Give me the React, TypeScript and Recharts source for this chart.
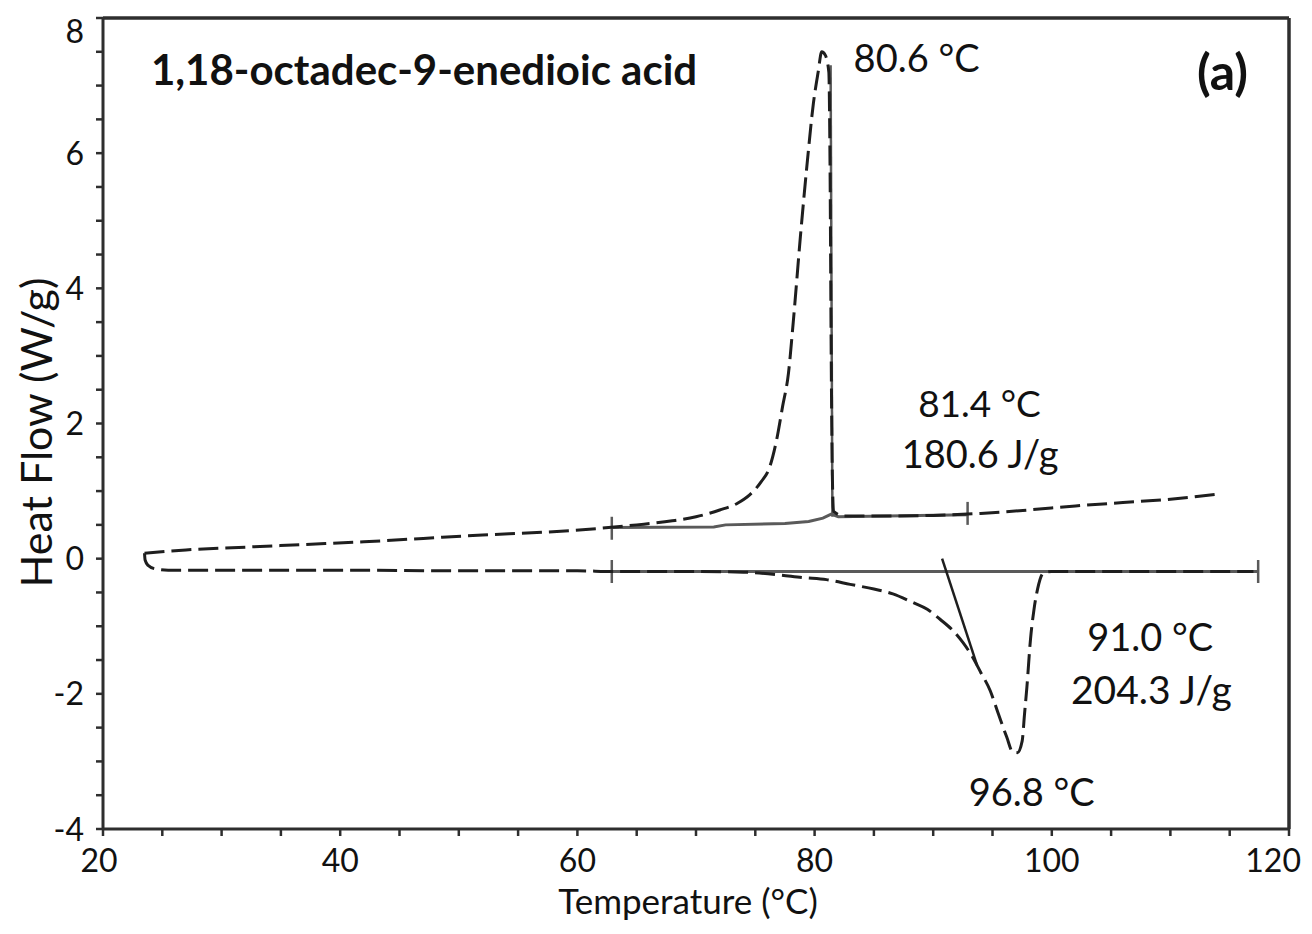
import React from "react";
import {
    LineChart,
    Line,
    XAxis,
    YAxis,
    ReferenceLine,
    ReferenceDot,
    Label,
} from "recharts";

// cooling scan (upper trace, exotherm up)
const coolingTemp = [23.5, 27, 32, 37, 42, 47, 52, 57, 62, 65, 68, 70, 72, 73.5, 74.5, 75.5, 76.2, 76.8, 77.3, 77.8, 78.2, 78.8, 79.4, 79.9, 80.3, 80.6, 80.9, 81.2, 81.3, 81.4, 81.5, 81.6, 82.5, 86, 90, 94, 98, 102, 106, 110, 114.2];
const coolingFlow = [0.08, 0.13, 0.17, 0.21, 0.25, 0.3, 0.35, 0.39, 0.45, 0.5, 0.56, 0.62, 0.72, 0.82, 0.94, 1.14, 1.35, 1.76, 2.25, 2.75, 3.5, 4.76, 5.9, 6.74, 7.2, 7.5, 7.45, 7.2, 5.85, 3.0, 1.2, 0.7, 0.63, 0.63, 0.64, 0.67, 0.72, 0.78, 0.83, 0.88, 0.96];

// heating scan (lower trace, endotherm down)
const heatingTemp = [23.5, 23.55, 23.8, 24.4, 25.5, 30, 40, 50, 60, 63, 70, 74, 77, 79, 81, 83, 85, 86.6, 88.3, 89.5, 90.6, 91.7, 92.5, 93.2, 94.0, 94.8, 95.5, 96.2, 96.7, 97.1, 97.5, 97.7, 97.9, 98.2, 98.5, 98.8, 99.3, 100, 117];
const heatingFlow = [0.08, -0.02, -0.1, -0.15, -0.17, -0.17, -0.17, -0.18, -0.18, -0.19, -0.19, -0.2, -0.24, -0.28, -0.31, -0.38, -0.45, -0.52, -0.65, -0.75, -0.9, -1.07, -1.24, -1.42, -1.68, -1.95, -2.3, -2.64, -2.86, -2.87, -2.7, -2.3, -1.9, -1.2, -0.75, -0.45, -0.21, -0.19, -0.19];

// analysis lines drawn by the instrument software
const coolBaseTemp = [62.9, 71.5, 72.5, 77.5, 79.5, 80.7, 81.4, 82, 92.9];
const coolBaseFlow = [0.46, 0.47, 0.5, 0.52, 0.55, 0.6, 0.66, 0.62, 0.65];
const coolOnsetTemp = [81.35, 81.5];
const coolOnsetFlow = [7.3, 0.62];
const heatBaseTemp = [62.9, 117.4];
const heatBaseFlow = [-0.19, -0.19];
const heatOnsetTemp = [90.75, 93.7];
const heatOnsetFlow = [0.0, -1.58];

// integration limit marks: [temperature, top, bottom]
const limitMarks = [
    [62.9, 0.62, 0.28],
    [92.9, 0.84, 0.5],
    [62.9, -0.02, -0.36],
    [117.4, -0.02, -0.36],
];

const tempTicks = [20, 25, 30, 35, 40, 45, 50, 55, 60, 65, 70, 75, 80, 85, 90, 95, 100, 105, 110, 115, 120];
const flowTicks = [-4, -3.5, -3, -2.5, -2, -1.5, -1, -0.5, 0, 0.5, 1, 1.5, 2, 2.5, 3, 3.5, 4, 4.5, 5, 5.5, 6, 6.5, 7, 7.5, 8];

// annotations: text, temperature, heat flow, bold, size
const notes: [string, number, number, boolean, number][] = [
    ["1,18-octadec-9-enedioic acid", 47.07, 7.23, true, 42],
    ["80.6 °C", 88.6, 7.41, false, 38],
    ["(a)", 114.4, 7.2, true, 50],
    ["81.4 °C", 93.9, 2.3, false, 37],
    ["180.6 J/g", 93.95, 1.54, false, 38],
    ["91.0 °C", 108.3, -1.17, false, 38],
    ["204.3 J/g", 108.4, -1.94, false, 39],
    ["96.8 °C", 98.3, -3.45, false, 38],
];

const zip = (t: number[], f: number[]) => t.map((v, i) => ({ t: v, f: f[i] }));

const FONT = "Lato, 'Open Sans', sans-serif";
const AXIS = "#2e2e2e";
const TRACE = "#1e1e1e";
const FIT = "#5a5a5a";

const XTick = (props: any) => {
    const { x, y, payload } = props;
    const major = payload.value % 20 === 0;
    let anchor = "middle";
    let tx = x;
    if (payload.value === 120) {
        anchor = "end";
        tx = x + 12;
    } else if (payload.value === 20) {
        tx = x - 4;
    }
    return (
        <g>
            <line x1={x} x2={x} y1={y} y2={y + 7} stroke={AXIS} strokeWidth={2.5} />
            {major && (
                <text x={tx} y={y + 43} textAnchor={anchor} fontSize={32} fontFamily={FONT} fill="#111">
                    {payload.value}
                </text>
            )}
        </g>
    );
};

const YTick = (props: any) => {
    const { x, y, payload } = props;
    const major = payload.value % 2 === 0;
    const shift = payload.value === 8 ? 13 : 0;
    return (
        <g>
            <line x1={x - 7} x2={x} y1={y} y2={y} stroke={AXIS} strokeWidth={2.5} />
            {major && (
                <text x={x - 19} y={y + shift} dy="0.36em" textAnchor="end" fontSize={32} fontFamily={FONT} fill="#111">
                    {payload.value}
                </text>
            )}
        </g>
    );
};

const XTitle = (props: any) => {
    const { viewBox } = props;
    return (
        <text x={viewBox.x + viewBox.width / 2 - 8} y={viewBox.y + 85} textAnchor="middle" fontSize={35} fontFamily={FONT} fill="#111">
            Temperature (°C)
        </text>
    );
};

const YTitle = (props: any) => {
    const { viewBox } = props;
    const cx = viewBox.x + 29;
    const cy = viewBox.y + viewBox.height / 2 + 9;
    return (
        <text x={cx} y={cy} dy="0.36em" textAnchor="middle" fontSize={43} fontFamily={FONT} fill="#111" transform={`rotate(-90 ${cx} ${cy})`}>
            Heat Flow (W/g)
        </text>
    );
};

const noteLabel = (text: string, bold: boolean, size: number) => (props: any) => {
    const { viewBox } = props;
    return (
        <text x={viewBox.x} y={viewBox.y} dy="0.36em" textAnchor="middle" fontSize={size} fontWeight={bold ? 700 : 400} fontFamily={FONT} fill="#111">
            {text}
        </text>
    );
};

export default function App() {
    return (
        <LineChart width={1296} height={918} margin={{ top: 10, right: 15, bottom: 0, left: 0 }}>
            <XAxis
                type="number"
                dataKey="t"
                domain={[20, 120]}
                ticks={tempTicks}
                interval={0}
                tickSize={0}
                tickMargin={0}
                tick={<XTick />}
                height={97}
                axisLine={{ stroke: AXIS, strokeWidth: 3 }}
                allowDataOverflow
            >
                <Label content={<XTitle />} />
            </XAxis>
            <YAxis
                type="number"
                dataKey="f"
                domain={[-4, 8]}
                ticks={flowTicks}
                interval={0}
                tickSize={0}
                tickMargin={0}
                tick={<YTick />}
                width={95}
                axisLine={{ stroke: AXIS, strokeWidth: 3 }}
                allowDataOverflow
            >
                <Label content={<YTitle />} />
            </YAxis>
            <ReferenceLine y={8} stroke={AXIS} strokeWidth={3.5} />
            <ReferenceLine x={120} stroke={AXIS} strokeWidth={3.5} />

            <Line data={zip(heatBaseTemp, heatBaseFlow)} dataKey="f" type="linear" stroke={FIT} strokeWidth={3} dot={false} isAnimationActive={false} />
            <Line data={zip(coolBaseTemp, coolBaseFlow)} dataKey="f" type="linear" stroke={FIT} strokeWidth={3} dot={false} isAnimationActive={false} />
            <Line data={zip(coolOnsetTemp, coolOnsetFlow)} dataKey="f" type="linear" stroke={FIT} strokeWidth={2.5} dot={false} isAnimationActive={false} />
            <Line data={zip(heatOnsetTemp, heatOnsetFlow)} dataKey="f" type="linear" stroke={TRACE} strokeWidth={2.5} dot={false} isAnimationActive={false} />
            {limitMarks.map((m, i) => (
                <Line key={i} data={zip([m[0], m[0]], [m[1], m[2]])} dataKey="f" type="linear" stroke={FIT} strokeWidth={2.5} dot={false} isAnimationActive={false} />
            ))}

            <Line data={zip(coolingTemp, coolingFlow)} dataKey="f" type="monotone" stroke={TRACE} strokeWidth={3} strokeDasharray="20 7" dot={false} isAnimationActive={false} />
            <Line data={zip(heatingTemp, heatingFlow)} dataKey="f" type="monotone" stroke={TRACE} strokeWidth={3} strokeDasharray="20 7" dot={false} isAnimationActive={false} />

            {notes.map(([text, t, f, bold, size]) => (
                <ReferenceDot key={text} x={t} y={f} r={0} fill="none" stroke="none" label={{ content: noteLabel(text, bold, size) }} />
            ))}
        </LineChart>
    );
}
